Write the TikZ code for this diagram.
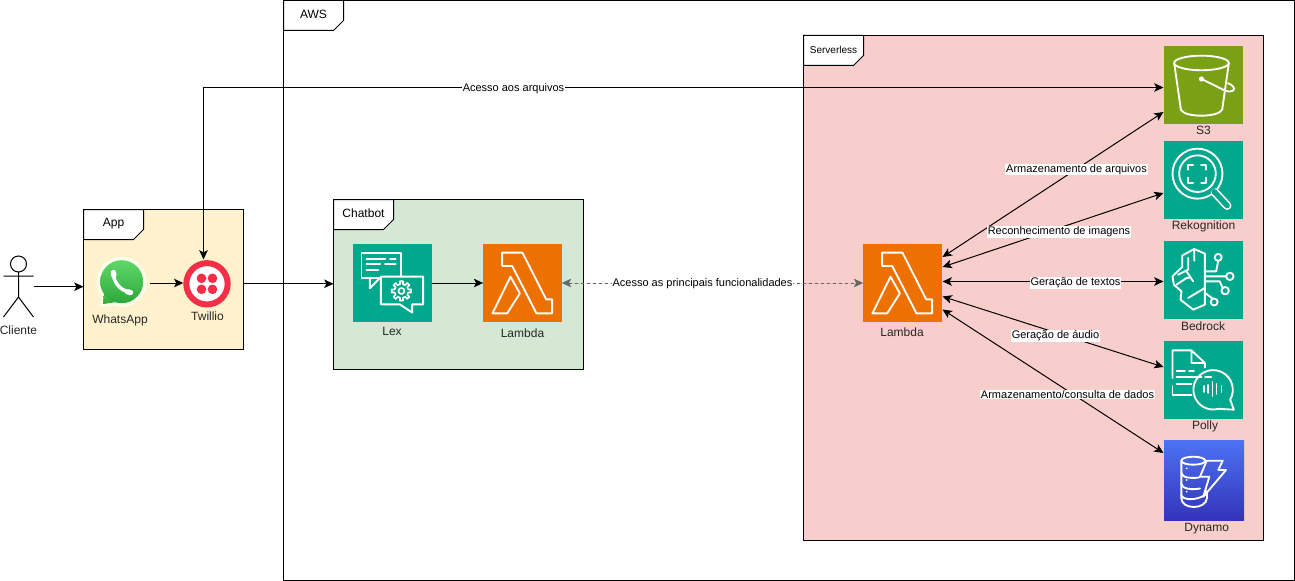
\documentclass[tikz,border=0pt]{standalone}
\usepackage{fontspec}
\setmainfont{Liberation Sans}
\usetikzlibrary{arrows.meta}

\definecolor{tealTile}{HTML}{01A88D}
\definecolor{orangeTile}{HTML}{ED7100}
\definecolor{greenTile}{HTML}{7AA116}
\definecolor{twilioRed}{HTML}{F22F46}
\definecolor{dynamoTop}{HTML}{4D72F3}
\definecolor{dynamoBot}{HTML}{3334B9}
\definecolor{dashGray}{HTML}{666666}
\definecolor{serverlessFill}{HTML}{F8CECC}
\definecolor{chatbotFill}{HTML}{D5E8D4}
\definecolor{appFill}{HTML}{FFF2CC}
\definecolor{whatsTop}{HTML}{5FD868}
\definecolor{whatsBot}{HTML}{2CA83A}

\tikzset{every picture/.style={line width=0.75pt}}
\tikzset{
  tile/.style={inner sep=0pt,outer sep=0pt,minimum size=59pt},
  frameBox/.style={draw=black,anchor=north west,inner sep=0pt,outer sep=0pt},
  tabText/.style={font=\fontsize{9}{10}\selectfont},
  tileText/.style={font=\fontsize{9}{10}\selectfont,text=black!85,yshift=-0.6pt},
  edgeText/.style={font=\fontsize{8.25}{9}\selectfont,fill=white,inner sep=0.6pt,yshift=-0.75pt},
  tipped/.style={-{Stealth[length=7pt,width=6.4pt,inset=1.7pt]}},
  twoTips/.style={{Stealth[length=7pt,width=6.4pt,inset=1.7pt]}-{Stealth[length=7pt,width=6.4pt,inset=1.7pt]}},
  iconLine/.style={draw=white,line width=1.4pt,line join=round,line cap=round}
}

\newcommand{\iconLambda}{
  \draw[iconLine] (19,9) -- (39.3,9) -- (63,55.7) -- (69,55.7) -- (69,69.7) -- (53.3,69.7) -- (29,22.3) -- (19,22.3) -- cycle;
  \draw[iconLine] (27.3,33) -- (36.7,49.7) -- (24,69.7) -- (9.3,69.7) -- cycle;
}
\newcommand{\iconLex}{
  \draw[iconLine] (27,34) -- (8.3,34) -- (8.3,9) -- (47.7,9) -- (47.7,33);
  \draw[iconLine] (16.7,34) -- (16.7,44.7) -- (27,34);
  \draw[iconLine] (13.5,15) -- (32,15) (37,15) -- (42.5,15) (13.5,20.5) -- (27,20.5) (32,20.5) -- (42.5,20.5) (13.5,26) -- (25,26);
  \draw[iconLine] (27.7,33) -- (70,33) -- (70,60.7) -- (59,60.7) -- (59,69) -- (46.7,60.7) -- (27.7,60.7) -- cycle;
  \begin{scope}[shift={(48.3,47.3)}]
    \foreach \a in {0,45,...,315}
      \draw[iconLine,line width=1.2pt] (\a-22.5:6.8) -- (\a-12:7) -- (\a-9:9.8) -- (\a+9:9.8) -- (\a+12:7) -- (\a+22.5:6.8);
    \draw[iconLine,line width=1.2pt] (0,0) circle [radius=3];
  \end{scope}
}
\newcommand{\iconBucket}{
  \draw[iconLine] (37.3,17.3) ellipse [x radius=27.3,y radius=7.3];
  \draw[iconLine] (10,17.3) -- (16.7,64) .. controls (20,72) and (54,72) .. (58,64) -- (64.7,17.3);
  \fill[white] (37.3,33.3) circle [radius=2.6];
  \draw[iconLine] (37.3,33.3) -- (61,45) .. controls (68,47.5) and (72,44) .. (69,41) .. controls (68,39.5) and (66,38.5) .. (63.8,37.5);
}
\newcommand{\iconLens}{
  \draw[iconLine] (33.3,33) circle [radius=25];
  \draw[iconLine] (33.3,33) circle [radius=18.3];
  \draw[white,line width=6.4pt,line cap=round] (51,52) -- (63,65);
  \draw[tealTile,line width=4pt,line cap=round] (50,51) -- (63,65);
  \draw[iconLine] (24,29) -- (24,24) -- (29,24) (37,24) -- (42,24) -- (42,29) (42,37) -- (42,42) -- (37,42) (29,42) -- (24,42) -- (24,37);
}
\newcommand{\iconBrain}{
  \draw[iconLine] (40.7,13) -- (30,8.3) -- (18,15) -- (18,26.3) -- (8.3,35.7) -- (9.7,44) -- (17.3,50.7) -- (16.3,59) -- (29,69) -- (40.7,64) -- cycle;
  \draw[iconLine] (24,17.3) -- (24,29) -- (14,34) (22.3,30.7) -- (29,40.7) (12.3,44) -- (22.3,37.3) -- (26,37) (30,8.3) -- (30,20) (24,57.3) -- (40.7,47.3);
  \draw[iconLine] (40.7,30.7) -- (52,30.7) -- (54,20.2) (40.7,35.7) -- (62,35.7) (40.7,40.7) -- (55.5,40.7) -- (58.5,47.2) (40.7,52) -- (48.5,58);
  \draw[iconLine] (54,16.7) circle [radius=3.5] (65.7,35.7) circle [radius=3.7] (61,50) circle [radius=3.7] (50,61.3) circle [radius=3.5];
}
\newcommand{\iconSpeech}{
  \draw[iconLine] (8.3,37.3) -- (8.3,9.7) -- (27.3,9.7) -- (40.7,22.3) -- (40.7,27) (27.3,9.7) -- (27.3,22.3) -- (40.7,22.3);
  \draw[iconLine] (12.3,30.7) -- (20.7,30.7) (25,30.7) -- (29.7,30.7) (12.3,36.3) -- (37.3,36.3) (41,36.3) -- (47,36.3) (12.3,43) -- (27.3,43);
  \draw[iconLine] (8.3,45.7) -- (8.3,54) -- (27.3,54);
  \draw[iconLine] (66,59) arc [start angle=30,end angle=-285,radius=19.7] -- (69.7,69) -- cycle;
  \draw[iconLine] (40,45.3) -- (40,51.3) (44,44.3) -- (44,52.3) (48.3,41.3) -- (48.3,55.3) (52.3,43.3) -- (52.3,53.3) (57.3,45.3) -- (57.3,51.3);
}
\newcommand{\iconStack}{
  \draw[iconLine] (29.3,20.7) ellipse [x radius=12,y radius=4];
  \draw[iconLine] (17.3,20.7) -- (17.3,58) .. controls (17.3,70) and (42,70) .. (43,58) -- (43,51);
  \draw[iconLine] (17.3,33) .. controls (18,38) and (28,38.5) .. (35,37.5) (17.3,44) .. controls (18,49) and (28,50) .. (36,48.5) (17.3,55) .. controls (18,60) and (32,61) .. (41,55);
  \fill[white] (22.7,28.3) circle [radius=1] (22.7,40) circle [radius=1] (22.7,51.7) circle [radius=1];
  \draw[iconLine] (42.7,20.7) -- (58.7,20.7) -- (54.3,30) -- (62,30) -- (39.3,56.7) -- (45.3,36.7) -- (36,36.7) -- cycle;
}

\begin{document}
\begin{tikzpicture}[x=0.75pt,y=0.75pt,yscale=-1,xscale=1]
\path[fill=white,use as bounding box] (0,0) rectangle (1295,581);

% Frames
\node[frameBox,minimum width=758pt,minimum height=435pt] (aws) at (283.5,0.5) {};
\node[frameBox,fill=serverlessFill,minimum width=345pt,minimum height=378.75pt] (serverless) at (803.5,35.5) {};
\node[frameBox,fill=chatbotFill,minimum width=187.5pt,minimum height=127.5pt] (chatbot) at (333.5,199.5) {};
\node[frameBox,fill=appFill,minimum width=120pt,minimum height=105pt] (app) at (83.5,209.5) {};

% Frame tabs
\draw[fill=white] (aws.north west) -- ++(60,0) -- ++(0,20) -- ++(-10,10) -- ++(-50,0) -- cycle;
\draw[fill=white] (serverless.north west) -- ++(60,0) -- ++(0,20) -- ++(-10,10) -- ++(-50,0) -- cycle;
\draw[fill=white] (chatbot.north west) -- ++(60,0) -- ++(0,20) -- ++(-10,10) -- ++(-50,0) -- cycle;
\draw[fill=white] (app.north west) -- ++(60,0) -- ++(0,20) -- ++(-10,10) -- ++(-50,0) -- cycle;
\node[tabText] (awsText) at (313.5,14.5) {AWS};
\node[tabText,font=\fontsize{7.5}{9}\selectfont] (serverlessText) at (833.5,50) {Serverless};
\node[tabText] (chatbotText) at (363.5,213.5) {Chatbot};
\node[tabText] (appText) at (113.5,223.5) {App};

% Actor
\node[inner sep=0pt,minimum width=22.5pt,minimum height=45pt] (actor) at (18.5,286.7) {};
\draw (18.5,264) circle [radius=8];
\draw (18.5,272) -- (18.5,297) (3.5,276) -- (33.5,276) (3.5,317) -- (18.5,297) -- (33.5,317);
\node[tileText] (actorText) at (18.5,329.5) {Cliente};

% WhatsApp
\node[inner sep=0pt,minimum size=43pt] (whats) at (121,283) {};
\fill[white!92!yellow] (121.7,281.7) circle [radius=25] (100,307) -- (103.5,281) -- (122,304) -- cycle;
\shade[top color=whatsTop,bottom color=whatsBot] (103,304) -- (105,283) -- (124,301) -- cycle;
\shade[top color=whatsTop,bottom color=whatsBot] (121.7,281.7) circle [radius=21.5];
\draw[white,line width=2.6pt,line cap=round] (113.5,274.5) .. controls (114,283) and (121,291) .. (130,292);
\draw[white,line width=4pt,line cap=round] (113.5,272.5) -- (113.8,275.5) (127.5,291.8) -- (130.5,292.5);
\node[tileText] (whatsText) at (120,320) {WhatsApp};

% Twillio
\node[circle,draw=twilioRed,line width=4.5pt,fill=white,inner sep=0pt,minimum size=31pt] (twilio) at (207,283.8) {};
\foreach \dx/\dy in {-5.5/-5.5,5.5/-5.5,-5.5/5.5,5.5/5.5}
  \fill[twilioRed] (207+\dx,283.8+\dy) circle [radius=4.8];
\node[tileText] (twilioText) at (207.5,315.7) {Twillio};

% Tiles
\node[tile,fill=tealTile] (lex) at (392.5,283) {};
\node[tile,fill=orangeTile] (lamA) at (522.5,283) {};
\node[tile,fill=orangeTile] (lamB) at (902.5,283) {};
\node[tile,fill=greenTile] (sthree) at (1203.5,85) {};
\node[tile,fill=tealTile] (rekognition) at (1203.5,180) {};
\node[tile,fill=tealTile] (bedrock) at (1203.5,280) {};
\node[tile,fill=tealTile] (polly) at (1203.5,380) {};
\node[tile,minimum size=60pt,top color=dynamoTop,bottom color=dynamoBot] (dynamo) at (1204,480) {};

% Tile icons
\begin{scope}[shift={(lex.north west)}] \iconLex \end{scope}
\begin{scope}[shift={(lamA.north west)}] \iconLambda \end{scope}
\begin{scope}[shift={(lamB.north west)}] \iconLambda \end{scope}
\begin{scope}[shift={(sthree.north west)}] \iconBucket \end{scope}
\begin{scope}[shift={(rekognition.north west)}] \iconLens \end{scope}
\begin{scope}[shift={(bedrock.north west)}] \iconBrain \end{scope}
\begin{scope}[shift={(polly.north west)}] \iconSpeech \end{scope}
\begin{scope}[shift={(dynamo.north west)}] \iconStack \end{scope}

% Tile labels
\node[tileText] (lexText) at (392,331) {Lex};
\node[tileText] (lamAText) at (522.5,332) {Lambda};
\node[tileText] (lamBText) at (902,331) {Lambda};
\node[tileText] (sthreeText) at (1203.5,130) {S3};
\node[tileText] (rekognitionText) at (1203.5,225.7) {Rekognition};
\node[tileText] (bedrockText) at (1203,325.7) {Bedrock};
\node[tileText] (pollyText) at (1205,425.7) {Polly};
\node[tileText] (dynamoText) at (1206.7,527.7) {Dynamo};

% Connector ends
\coordinate (twilioTop) at (203.5,259.5);
\coordinate (sthreeA) at (1163.5,87.5);
\coordinate (sthreeB) at (1163.5,112);
\coordinate (rekognitionA) at (1163.5,193);
\coordinate (bedrockA) at (1163.5,281.5);
\coordinate (pollyA) at (1163.5,367);
\coordinate (dynamoA) at (1163.5,453);
\coordinate (lamBa) at (942.5,257);
\coordinate (lamBb) at (942.5,267);
\coordinate (lamBc) at (942.5,281.5);
\coordinate (lamBd) at (942.5,296.5);
\coordinate (lamBe) at (942.5,309.5);

% Straight Lines
\draw[tipped] (actor.east) -- (actor.east -| app.west);
\draw[tipped] (whats.east) -- (whats.east -| twilio.west);
\draw[tipped] (app.east |- twilio) -- (chatbot.west |- twilio);
\draw[tipped] (lex.east) -- (lamA.west);
\draw[twoTips] (sthreeA) -| (twilioTop);
\draw[twoTips,draw=dashGray,fill=dashGray,dash pattern=on 2.25pt off 2.25pt] (lamA.east) -- (lamB.west);
\draw[twoTips] (lamBa) -- (sthreeB);
\draw[twoTips] (lamBb) -- (rekognitionA);
\draw[twoTips] (lamBc) -- (bedrockA);
\draw[twoTips] (lamBd) -- (pollyA);
\draw[twoTips] (lamBe) -- (dynamoA);

% Text Node
\node[edgeText] (accessText) at (513.5,87.5) {Acesso aos arquivos};
\node[edgeText] (mainText) at (702.5,283) {Acesso as principais funcionalidades};
\node[edgeText] (storeText) at (1076.5,168.5) {Armazenamento de arquivos};
\node[edgeText] (imageText) at (1059,231) {Reconhecimento de imagens};
\node[edgeText] (textosText) at (1075.5,282) {Geração de textos};
\node[edgeText] (audioText) at (1055.5,335) {Geração de áudio};
\node[edgeText] (dataText) at (1067.5,393.5) {Armazenamento/consulta de dados};

\end{tikzpicture}
\end{document}
